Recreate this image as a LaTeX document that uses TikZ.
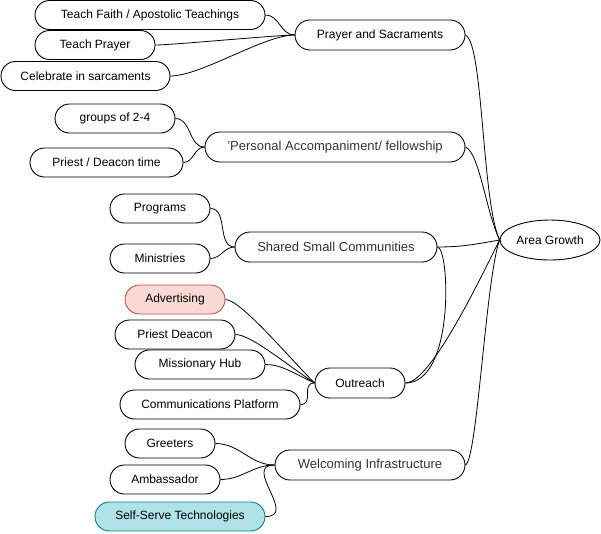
\documentclass[tikz,border=0pt]{standalone}
\usepackage{fontspec}
\setmainfont{Liberation Sans}
\usetikzlibrary{shapes.misc,shapes.geometric}
\definecolor{advfill}{HTML}{FAD9D5}
\definecolor{advdraw}{HTML}{B85450}
\definecolor{ssfill}{HTML}{B0E3E6}
\definecolor{ssdraw}{HTML}{0E8088}
\definecolor{midtext}{HTML}{333333}
\begin{document}
\begin{tikzpicture}[x=1pt,y=-1pt,
  leaf/.style={draw, rounded rectangle, line width=0.9pt, minimum height=29pt, inner sep=0pt, font=\fontsize{12}{14}\selectfont},
  mid/.style={draw, rounded rectangle, line width=0.9pt, minimum height=30pt, inner sep=0pt, font=\fontsize{12}{14}\selectfont},
  midb/.style={mid, text=midtext, font=\fontsize{13}{15}\selectfont},
  link/.style={line width=0.8pt}]
\useasboundingbox (0,0) rectangle (601,533);
% leaves
\node[leaf, minimum width=230pt] (tf) at (150,15) {Teach Faith / Apostolic Teachings};
\node[leaf, minimum width=120pt] (tp) at (95,45) {Teach Prayer};
\node[leaf, minimum width=169pt] (cs) at (85.5,76) {Celebrate in sarcaments};
\node[leaf, minimum width=120pt] (g24) at (115,118.5) {groups of 2-4};
\node[leaf, minimum width=153pt] (pdt) at (106.5,162.5) {Priest / Deacon time};
\node[leaf, minimum width=100pt] (prog) at (160,208.5) {Programs};
\node[leaf, minimum width=100pt] (min) at (160,258.5) {Ministries};
\node[leaf, minimum width=100pt, fill=advfill, draw=advdraw] (adv) at (175,299.5) {Advertising};
\node[leaf, minimum width=120pt] (pd) at (175,334.5) {Priest Deacon};
\node[leaf, minimum width=130pt] (mh) at (200,364.5) {Missionary Hub};
\node[leaf, minimum width=180pt] (cp) at (210,404.5) {Communications Platform};
\node[leaf, minimum width=90pt] (gr) at (170,443.5) {Greeters};
\node[leaf, minimum width=110pt] (amb) at (165,479.5) {Ambassador};
\node[leaf, minimum width=170pt, fill=ssfill, draw=ssdraw] (sst) at (180,516.5) {Self-Serve Technologies};
% middle
\node[mid, minimum width=170pt] (ps) at (380,35) {Prayer and Sacraments};
\node[midb, minimum width=260pt] (pa) at (335,147) {'Personal Accompaniment/ fellowship};
\node[midb, minimum width=202pt] (ssc) at (336,247) {Shared Small Communities};
\node[mid, minimum width=90pt] (out) at (360,383) {Outreach};
\node[midb, minimum width=190pt] (wi) at (370,465) {Welcoming Infrastructure};
% root
\node[draw, ellipse, line width=0.9pt, minimum width=100pt, minimum height=40pt, inner sep=0pt, font=\fontsize{12}{14}\selectfont] (ag) at (550,240) {Area Growth};
% links to Prayer and Sacraments
\draw[link] (tf.east) to[out=0,in=180] (ps.west);
\draw[link] (tp.east) to[out=0,in=180,looseness=0.3] (ps.west);
\draw[link] (cs.east) to[out=0,in=180,looseness=0.6] (ps.west);
% Personal
\draw[link] (g24.east) to[out=0,in=180] (pa.west);
\draw[link] (pdt.east) to[out=0,in=180] (pa.west);
% Shared
\draw[link] (prog.east) to[out=0,in=180] (ssc.west);
\draw[link] (min.east) to[out=0,in=180] (ssc.west);
% Outreach
\draw[link] (adv.east) .. controls +(15,0) and +(-25,-25) .. (out.west);
\draw[link] (pd.east) .. controls +(15,0) and +(-30,-20) .. (out.west);
\draw[link] (mh.east) .. controls +(15,0) and +(-25,-12) .. (out.west);
\draw[link] (cp.east) to[out=0,in=180,looseness=1.4] (out.west);
% Welcoming
\draw[link] (gr.east) to[out=0,in=180] (wi.west);
\draw[link] (amb.east) to[out=0,in=180] (wi.west);
\draw[link] (sst.east) to[out=0,in=180,looseness=1.6] (wi.west);
% to Area Growth
\draw[link] (ps.east) .. controls +(18,8) and +(-18,-40) .. (ag.west);
\draw[link] (pa.east) .. controls +(14,6) and +(-14,-30) .. (ag.west);
\draw[link] (ssc.east) to[out=0,in=190] (ag.west);
\draw[link] (ssc.east) .. controls +(12,0) and +(50,0) .. (out.east);
\draw[link] (out.east) .. controls +(25,0) and +(-20,40) .. (ag.west);
\draw[link] (wi.east) .. controls +(12,-6) and +(-14,40) .. (ag.west);
\end{tikzpicture}
\end{document}
